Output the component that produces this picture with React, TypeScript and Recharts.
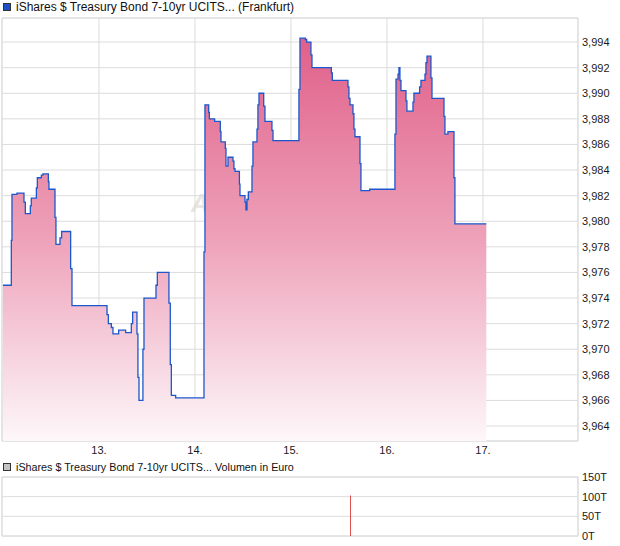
import React from 'react';
import { ComposedChart, Area, Bar, XAxis, YAxis, CartesianGrid, ReferenceArea } from 'recharts';

// price ticks, x in trading days (day-of-month with fraction)
const priceTimes = [
  12.0, 12.087, 12.094, 12.146, 12.219, 12.233, 12.285, 12.295, 12.348, 12.358,
  12.4, 12.417, 12.473, 12.479, 12.542, 12.552, 12.594, 12.611, 12.705, 12.719,
  13.084, 13.098, 13.129, 13.146, 13.205, 13.278, 13.337, 13.351, 13.396, 13.406,
  13.417, 13.458, 13.469, 13.594, 13.608, 13.729, 13.743, 13.754, 13.799, 14.094,
  14.104, 14.143, 14.15, 14.205, 14.264, 14.271, 14.316, 14.323, 14.344, 14.396,
  14.406, 14.417, 14.463, 14.469, 14.521, 14.531, 14.542, 14.556, 14.594, 14.604,
  14.646, 14.656, 14.667, 14.716, 14.729, 14.802, 14.813, 15.083, 15.094, 15.15,
  15.164, 15.208, 15.219, 15.421, 15.431, 15.594, 15.604, 15.615, 15.646, 15.656,
  15.667, 15.719, 15.729, 15.82, 16.083, 16.094, 16.115, 16.125, 16.135, 16.146,
  16.198, 16.208, 16.271, 16.281, 16.34, 16.354, 16.396, 16.406, 16.417, 16.458,
  16.469, 16.594, 16.604, 16.635, 16.698, 16.708, 17.035,
];
const priceValues = [
  3.975, 3.9785, 3.9821, 3.9822, 3.9815, 3.9806, 3.9812, 3.9818, 3.9826, 3.9834,
  3.9836, 3.9837, 3.9831, 3.9825, 3.9803, 3.9782, 3.9787, 3.9792, 3.9763, 3.9734,
  3.9727, 3.972, 3.9717, 3.9712, 3.9715, 3.9713, 3.972, 3.9729, 3.9712, 3.9678,
  3.966, 3.97, 3.974, 3.975, 3.976, 3.9736, 3.9688, 3.9664, 3.9662, 3.9776,
  3.9891, 3.9885, 3.988, 3.9878, 3.987, 3.9862, 3.9857, 3.9843, 3.985, 3.9847,
  3.9841, 3.9839, 3.9829, 3.982, 3.9815, 3.9809, 3.9817, 3.9823, 3.9843, 3.9862,
  3.9872, 3.9891, 3.99, 3.989, 3.9878, 3.9871, 3.9863, 3.9903, 3.9943, 3.9942,
  3.994, 3.993, 3.992, 3.9916, 3.991, 3.9905, 3.9896, 3.9891, 3.9884, 3.9872,
  3.9866, 3.9845, 3.9824, 3.9825, 3.9868, 3.9911, 3.9915, 3.992, 3.991, 3.9902,
  3.9894, 3.9886, 3.9893, 3.99, 3.9905, 3.991, 3.9915, 3.9924, 3.9929, 3.9912,
  3.9896, 3.9882, 3.9868, 3.987, 3.9834, 3.9798, 3.9798,
];
const priceTicks = [
  3.964, 3.966, 3.968, 3.97, 3.972, 3.974, 3.976, 3.978,
  3.98, 3.982, 3.984, 3.986, 3.988, 3.99, 3.992, 3.994,
];
const dayTicks = [13, 14, 15, 16, 17];

const volumeTimes = [15.615];
const volumeValues = [103];
const volumeTicks = [0, 50, 100, 150];

const TITLE = 'iShares $ Treasury Bond 7-10yr UCITS...';
const X_DOMAIN: [number, number] = [11.99, 17.99];
const Y_MIN = 3.96283;
const Y_MAX = 3.99588;

const GRID = '#dcdcdc';
const FONT = "'Liberation Sans', Arial, sans-serif";

const priceData = priceTimes.map((t, i) => ({ t, v: priceValues[i] }));
const volumeData = volumeTimes.map((t, i) => ({ t, vol: volumeValues[i] }));

const tickStyle = { fontSize: 11, fill: '#1a1a1a' };

function LegendBox({ color }: { color: string }) {
  return (
    <span
      style={{
        display: 'inline-block',
        width: 6,
        height: 6,
        background: color,
        border: '1px solid #333',
        marginRight: 5,
        verticalAlign: 'middle',
        position: 'relative',
        top: -1,
      }}
    />
  );
}

export default function App() {
  return (
    <div style={{ position: 'absolute', left: 0, top: 0, width: 620, height: 546, fontFamily: FONT, background: '#fff' }}>
      <div style={{ position: 'absolute', left: 3, top: 0, fontSize: 12, lineHeight: '15px', color: '#111', whiteSpace: 'nowrap' }}>
        <LegendBox color="#1f4fc4" />
        {TITLE} (Frankfurt)
      </div>

      <div
        style={{
          position: 'absolute',
          left: 191,
          top: 189,
          fontSize: 25,
          fontWeight: 'bold',
          fontStyle: 'italic',
          color: '#e8e5df',
          whiteSpace: 'nowrap',
        }}
      >
        ARIVA.DE
      </div>

      <div style={{ position: 'absolute', left: 0, top: 0 }}>
        <ComposedChart width={620} height={462} data={priceData} margin={{ top: 18, right: 0, bottom: 0, left: 2 }}>
          <defs>
            <linearGradient id="priceFill" x1="0" y1="0" x2="0" y2="1">
              <stop offset="0%" stopColor="#e0608a" />
              <stop offset="50%" stopColor="#eea2ba" />
              <stop offset="100%" stopColor="#fdf7fa" />
            </linearGradient>
          </defs>
          <CartesianGrid stroke={GRID} strokeWidth={1} />
          <ReferenceArea x1={X_DOMAIN[0]} x2={X_DOMAIN[1]} y1={Y_MIN} y2={Y_MAX} fill="none" stroke={GRID} ifOverflow="visible" />
          <XAxis
            dataKey="t"
            type="number"
            domain={X_DOMAIN}
            ticks={dayTicks}
            interval={0}
            allowDataOverflow
            height={21}
            tickLine={false}
            axisLine={false}
            tickSize={0}
            tickMargin={5}
            tick={tickStyle}
            tickFormatter={(d) => `${d}.`}
          />
          <YAxis
            orientation="right"
            type="number"
            domain={[Y_MIN, Y_MAX]}
            ticks={priceTicks}
            interval={0}
            allowDataOverflow
            width={42}
            tickLine={false}
            axisLine={false}
            tickSize={0}
            tickMargin={4}
            tick={{ ...tickStyle, textAnchor: 'start' }}
            tickFormatter={(v) => v.toFixed(3).replace('.', ',')}
          />
          <Area
            type="stepAfter"
            dataKey="v"
            stroke="#1c58cc"
            strokeWidth={1.3}
            fill="url(#priceFill)"
            fillOpacity={1}
            baseValue={Y_MIN}
            dot={false}
            activeDot={false}
            isAnimationActive={false}
          />
        </ComposedChart>
      </div>

      <div style={{ position: 'absolute', left: 3, top: 460, fontSize: 10.75, lineHeight: '15px', color: '#111', whiteSpace: 'nowrap' }}>
        <LegendBox color="#c4c4c4" />
        {TITLE} Volumen in Euro
      </div>

      <div style={{ position: 'absolute', left: 0, top: 470 }}>
        <ComposedChart width={620} height={76} data={volumeData} margin={{ top: 7, right: 0, bottom: 10, left: 2 }}>
          <CartesianGrid stroke={GRID} strokeWidth={1} />
          <ReferenceArea x1={X_DOMAIN[0]} x2={X_DOMAIN[1]} y1={0} y2={150} fill="none" stroke={GRID} ifOverflow="visible" />
          <XAxis
            dataKey="t"
            type="number"
            domain={X_DOMAIN}
            ticks={dayTicks}
            interval={0}
            allowDataOverflow
            height={0}
            tick={false}
            tickLine={false}
            axisLine={false}
          />
          <YAxis
            orientation="right"
            type="number"
            domain={[0, 150]}
            ticks={volumeTicks}
            interval={0}
            width={42}
            tickLine={false}
            axisLine={false}
            tickSize={0}
            tickMargin={4}
            tick={{ ...tickStyle, textAnchor: 'start' }}
            tickFormatter={(v) => `${v}T`}
          />
          <Bar dataKey="vol" fill="#dd5050" barSize={1} isAnimationActive={false} />
        </ComposedChart>
      </div>
    </div>
  );
}
